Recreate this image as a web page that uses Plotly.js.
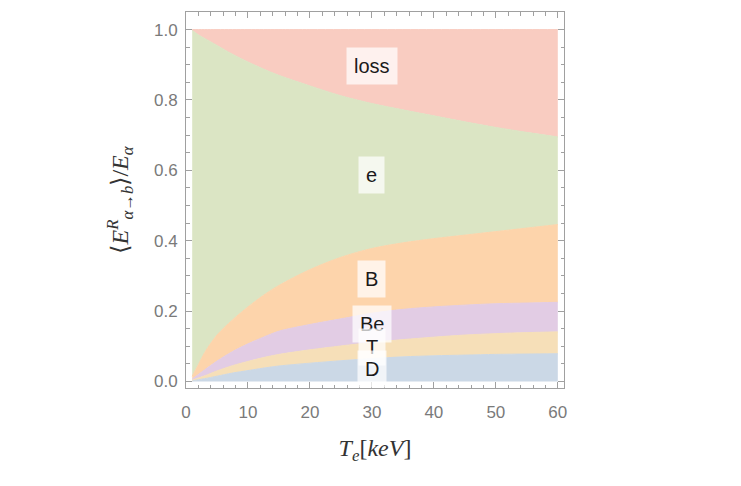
<!DOCTYPE html>
<html>
<head>
<meta charset="utf-8">
<script src="https://cdn.plot.ly/plotly-3.0.1.min.js"></script>
<style>html,body{margin:0;padding:0;background:#fff;}#chart{width:741px;height:486px;}</style>
</head>
<body>
<div id="chart"></div>
<script>
// Electron temperature T_e [keV]
const Te = [1, 2, 3, 5, 7.5, 10, 12.5, 15, 20, 25, 30, 35, 40, 45, 50, 55, 60];
// Fraction of alpha energy going to each channel (stacked)
const fracD    = [0.002, 0.005, 0.008, 0.015, 0.024, 0.031, 0.038, 0.044, 0.052, 0.059, 0.065, 0.070, 0.073, 0.075, 0.077, 0.078, 0.079];
const fracT    = [0.002, 0.005, 0.008, 0.015, 0.021, 0.026, 0.030, 0.033, 0.038, 0.042, 0.046, 0.049, 0.053, 0.057, 0.059, 0.061, 0.062];
const fracBe   = [0.003, 0.010, 0.017, 0.028, 0.040, 0.050, 0.058, 0.066, 0.072, 0.077, 0.083, 0.086, 0.086, 0.085, 0.085, 0.084, 0.084];
const fracB    = [0.008, 0.028, 0.049, 0.074, 0.090, 0.105, 0.119, 0.130, 0.156, 0.175, 0.184, 0.189, 0.194, 0.199, 0.205, 0.213, 0.221];
const fracE    = [0.983, 0.937, 0.893, 0.823, 0.755, 0.696, 0.643, 0.597, 0.522, 0.459, 0.412, 0.378, 0.349, 0.322, 0.296, 0.272, 0.249];
const fracLoss = [0.002, 0.015, 0.025, 0.045, 0.070, 0.092, 0.112, 0.130, 0.160, 0.188, 0.210, 0.228, 0.245, 0.262, 0.278, 0.292, 0.305];

const seriesNames = ['D', 'T', 'Be', 'B', 'e', 'loss'];
const seriesData = [fracD, fracT, fracBe, fracB, fracE, fracLoss];
const seriesColors = ['#cbd8e6', '#f6dfb8', '#e2cce4', '#fdd4ab', '#dbe5c4', '#f9ccc1'];

// label positions (x in keV, y in fraction)
const labelText = ['loss', 'e', 'B', 'Be', 'T', 'D'];
const labelX = [30, 30, 30, 30, 30, 30];
const labelY = [0.896, 0.587, 0.290, 0.162, 0.099, 0.036];

const traces = seriesData.map((d, i) => ({
  x: Te, y: d, type: 'scatter', mode: 'lines',
  stackgroup: 'one', name: seriesNames[i],
  line: {width: 1, color: seriesColors[i], shape: 'spline', smoothing: 0.9},
  fillcolor: seriesColors[i], hoverinfo: 'skip', showlegend: false
}));

const annotations = labelText.map((t, i) => ({
  x: labelX[i], y: labelY[i], xref: 'x', yref: 'y', text: t, showarrow: false,
  font: {family: 'Liberation Sans, Arial, sans-serif', size: 20, color: '#1a1a1a'},
  bgcolor: 'rgba(255,255,255,0.72)', borderpad: 7
}));

const tickFont = {family: 'Liberation Sans, Arial, sans-serif', size: 17, color: '#7a7a7a'};
const titleFont = {family: 'Liberation Serif, Times New Roman, serif', size: 24, color: '#333'};

const layout = {
  width: 741, height: 486,
  margin: {l: 186, r: 177, t: 12, b: 98},
  paper_bgcolor: '#fff', plot_bgcolor: '#fff',
  xaxis: {
    range: [0, 61], showgrid: false, zeroline: false,
    showline: true, linecolor: '#a0a0a0', linewidth: 1, mirror: 'ticks',
    ticks: 'inside', ticklen: 6, tickcolor: '#a0a0a0', dtick: 10, tick0: 0,
    minor: {dtick: 2, ticks: 'inside', ticklen: 3.5, tickcolor: '#a0a0a0'},
    tickfont: tickFont, ticklabelstandoff: 9,
    title: {text: '<i>T</i><sub><i>e</i></sub>[<i>keV</i>]', font: titleFont, standoff: 17}
  },
  yaxis: {
    range: [-0.0185, 1.05], showgrid: false, zeroline: false,
    showline: true, linecolor: '#a0a0a0', linewidth: 1, mirror: 'ticks',
    ticks: 'inside', ticklen: 6, tickcolor: '#a0a0a0', dtick: 0.2, tick0: 0,
    tickformat: '.1f',
    minor: {dtick: 0.05, ticks: 'inside', ticklen: 3.5, tickcolor: '#a0a0a0'},
    tickfont: tickFont, ticklabelstandoff: 4,
    title: {text: '⟨<i>E</i><sup><i>R</i></sup><sub><i>α</i>→<i>b</i></sub>⟩/<i>E</i><sub><i>α</i></sub>', font: titleFont, standoff: 18}
  },
  annotations: annotations
};

Plotly.newPlot('chart', traces, layout, {displayModeBar: false, staticPlot: true});
</script>
</body>
</html>
